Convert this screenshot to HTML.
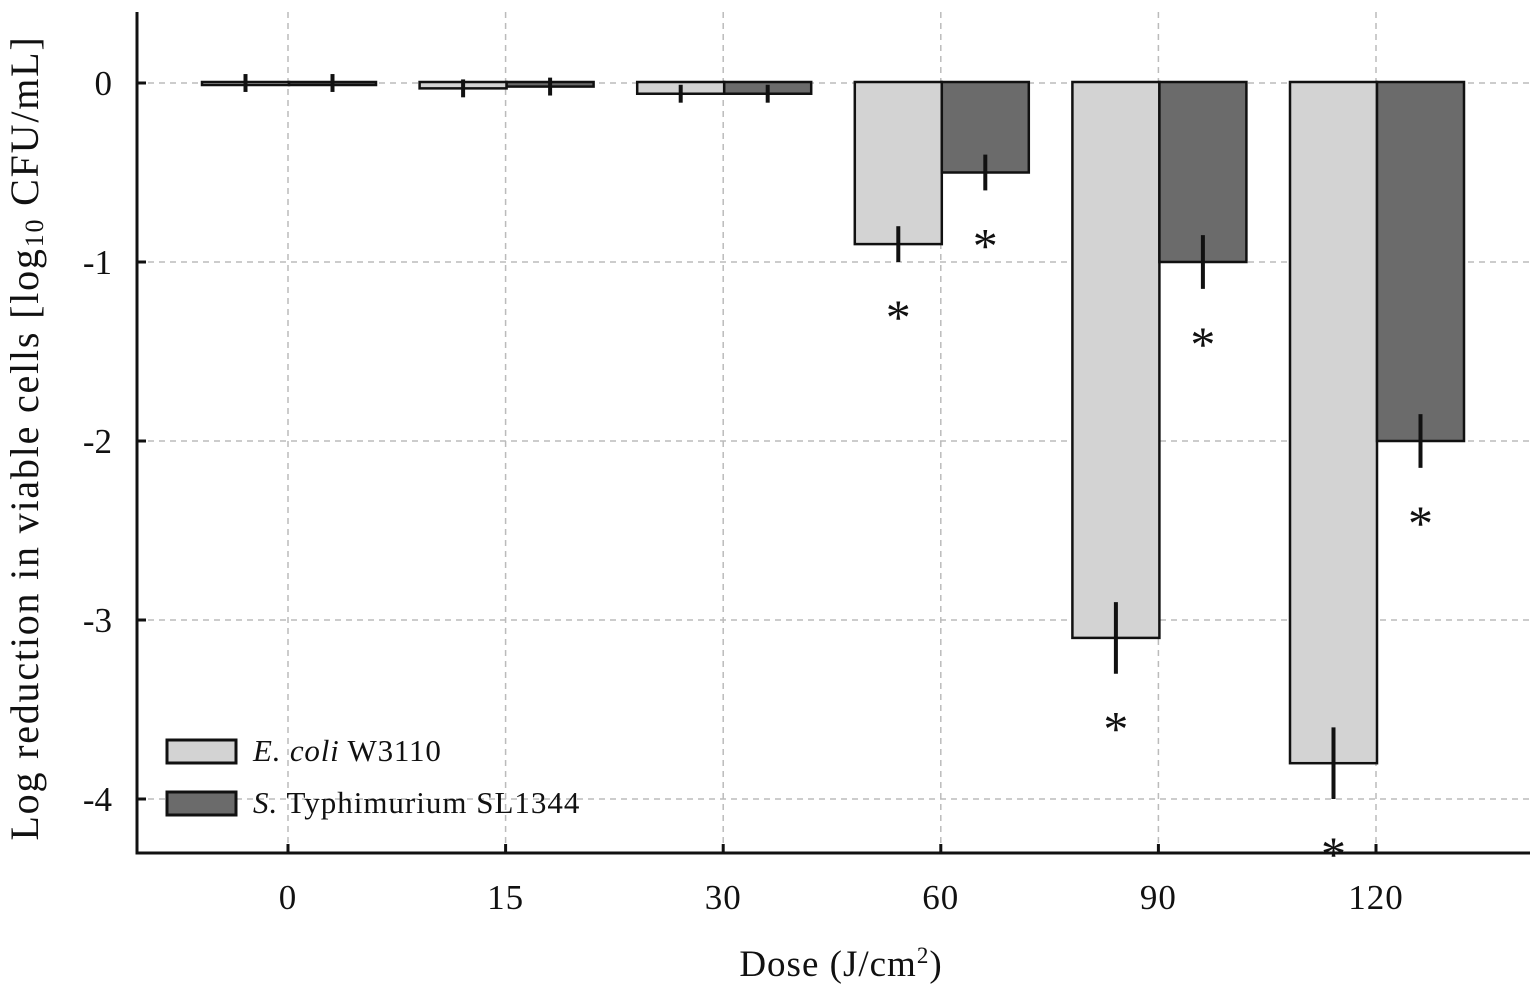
<!DOCTYPE html>
<html><head><meta charset="utf-8"><style>
html,body{margin:0;padding:0;background:#fff;}
svg{display:block;font-family:"Liberation Serif",serif;}
</style></head><body>
<svg id="chart" width="1535" height="990" viewBox="0 0 1535 990">
<g id="grid"></g>
<g id="bars"></g>
<g id="axes"></g>
<text transform="translate(38,438) rotate(-90)" text-anchor="middle" font-size="40" letter-spacing="1.8" fill="#111">Log reduction in viable cells [log<tspan font-size="26" dy="5">10</tspan><tspan dy="-5"> CFU/mL]</tspan></text>
<text x="841" y="976" text-anchor="middle" font-size="37" letter-spacing="1" fill="#111">Dose (J/cm<tspan font-size="23" dy="-13">2</tspan><tspan dy="13">)</tspan></text>
<g>
<rect x="167" y="740" width="69" height="23" fill="#d3d3d3" stroke="#111" stroke-width="3"/>
<text x="253" y="761" font-size="31" letter-spacing="0.8" fill="#111"><tspan font-style="italic">E. coli</tspan> W3110</text>
<rect x="167" y="792" width="69" height="23" fill="#6b6b6b" stroke="#111" stroke-width="3"/>
<text x="253" y="813" font-size="31" letter-spacing="1" fill="#111"><tspan font-style="italic">S.</tspan> Typhimurium SL1344</text>
</g>
</svg>
<script>
const categories = ["0","15","30","60","90","120"];
const ecoliValues = [0, -0.03, -0.06, -0.9, -3.1, -3.8];
const ecoliErrors = [0.05, 0.05, 0.05, 0.1, 0.2, 0.2];
const salmValues = [0, -0.02, -0.06, -0.5, -1.0, -2.0];
const salmErrors = [0.05, 0.05, 0.05, 0.1, 0.15, 0.15];
const ecoliSig = [false, false, false, true, true, true];
const salmSig = [false, false, false, true, true, true];
const yTicks = [0, -1, -2, -3, -4];

const NS = "http://www.w3.org/2000/svg";
const X0 = 137, XR = 1530, YT = 12, YB = 853;
const xPos = i => 288 + i * 217.6;
const yScale = v => 83 + (-v) * 179;
function mk(tag, attrs, parent) {
  const e = document.createElementNS(NS, tag);
  for (const k in attrs) e.setAttribute(k, attrs[k]);
  parent.appendChild(e);
  return e;
}
const grid = document.getElementById('grid');
const bars = document.getElementById('bars');
const axes = document.getElementById('axes');

yTicks.forEach(t => {
  const y = yScale(t);
  const g = mk('line', {x1: X0, x2: XR, y1: y, y2: y, stroke: '#bbb', 'stroke-width': 1.5, 'stroke-dasharray': '6,5'}, grid);
  
  
  const tk = mk('line', {x1: X0, x2: X0 + 9, y1: y, y2: y, stroke: '#111', 'stroke-width': 3}, axes);
  
  
  const lb = mk('text', {x: 112, y: y + 12, 'text-anchor': 'end', 'font-size': 35, fill: '#111'}, axes);
  lb.textContent = String(t);
  
  
});
categories.forEach((c, i) => {
  const x = xPos(i);
  const g = mk('line', {x1: x, x2: x, y1: YT, y2: YB, stroke: '#bbb', 'stroke-width': 1.5, 'stroke-dasharray': '6,5'}, grid);
  
  
  const tk = mk('line', {x1: x, x2: x, y1: YB - 9, y2: YB, stroke: '#111', 'stroke-width': 3}, axes);
  
  
  const lb = mk('text', {x: x, y: 909, 'text-anchor': 'middle', 'font-size': 35, 'letter-spacing': 1, fill: '#111'}, axes);
  lb.textContent = c;
  
  

  const bw = 87;
  const series = [
    {v: ecoliValues[i], e: ecoliErrors[i], s: ecoliSig[i], x: x - 86, fill: '#d3d3d3', name: 'bar-ecoli-' + c},
    {v: salmValues[i], e: salmErrors[i], s: salmSig[i], x: x + 1, fill: '#6b6b6b', name: 'bar-salmonella-' + c}
  ];
  series.forEach(s => {
    const y0 = yScale(0), y1 = yScale(s.v);
    const r = mk('rect', {x: s.x, y: y0 - 1, width: bw, height: Math.max(3, y1 - y0 + 1), fill: s.fill, stroke: '#111', 'stroke-width': 2.5}, bars);
    
    
    const cx = s.x + bw / 2;
    const eb = mk('line', {x1: cx, x2: cx, y1: yScale(s.v + s.e), y2: yScale(s.v - s.e), stroke: '#111', 'stroke-width': 4}, bars);
    
    
    if (s.s) {
      const st = mk('text', {x: cx, y: yScale(s.v - s.e) + 72, 'text-anchor': 'middle', 'font-size': 50, fill: '#111'}, bars);
      st.textContent = '*';
      
      
    }
  });
});
const ya = mk('line', {x1: X0, x2: X0, y1: YT, y2: YB + 1.5, stroke: '#111', 'stroke-width': 3}, axes);


const xa = mk('line', {x1: X0, x2: XR, y1: YB, y2: YB, stroke: '#111', 'stroke-width': 3}, axes);


</script>
</body></html>
